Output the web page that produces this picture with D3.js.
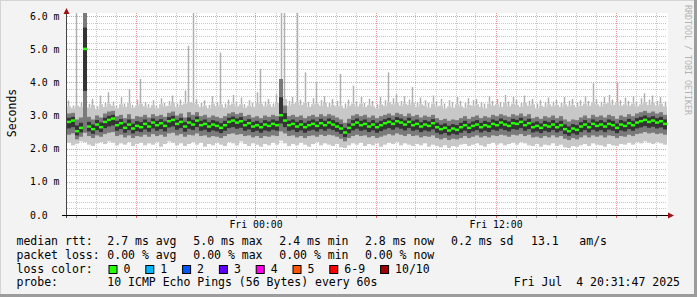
<!DOCTYPE html>
<html lang="en">
<head>
<meta charset="utf-8">
<title>SmokePing latency</title>
<script src="https://cdn.jsdelivr.net/npm/d3@7/dist/d3.min.js"></script>
<style>
  body { margin: 0; background: #f3f3f3; }
  svg text { font-family: "DejaVu Sans Mono", monospace; white-space: pre; }
</style>
</head>
<body>
<script>
// time window and column step (minutes)
var tStart = new Date(Date.UTC(2025, 6, 3, 14, 34, 30));
var tEnd = new Date(Date.UTC(2025, 6, 4, 20, 34, 30));
var stepMin = 12;

// per column values in ms: lowest ping, lower quartile, median, upper quartile, 90th pct, highest ping
var med = [
  2.80,2.84,2.52,2.62,5.00,2.66,2.58,2.72,2.64,2.80,
  2.86,2.90,2.70,2.76,2.62,2.72,2.60,2.68,2.64,2.74,
  2.66,2.78,2.70,2.76,2.68,2.82,2.86,2.74,2.80,2.66,
  2.78,2.72,2.84,2.70,2.74,2.66,2.72,2.68,2.62,2.70,
  2.80,2.84,2.78,2.82,2.70,2.76,2.66,2.70,2.64,2.72,
  2.68,2.74,2.70,3.00,2.84,2.70,2.74,2.66,2.72,2.64,
  2.70,2.74,2.68,2.76,2.70,2.78,2.72,2.66,2.60,2.48,
  2.62,2.72,2.78,2.70,2.74,2.66,2.72,2.64,2.70,2.76,
  2.80,2.74,2.82,2.78,2.72,2.80,2.70,2.74,2.66,2.72,
  2.68,2.76,2.64,2.58,2.62,2.54,2.60,2.56,2.64,2.70,
  2.62,2.68,2.72,2.64,2.70,2.66,2.74,2.70,2.78,2.72,
  2.68,2.76,2.74,2.80,2.70,2.76,2.64,2.68,2.62,2.70,
  2.66,2.72,2.64,2.70,2.58,2.52,2.60,2.56,2.66,2.72,
  2.64,2.74,2.68,2.72,2.66,2.74,2.70,2.62,2.72,2.68,
  2.76,2.70,2.78,2.82,2.86,2.80,2.84,2.78,2.82,2.74
];
var lo = [
  2.18,2.10,2.15,2.22,2.20,2.12,2.08,2.16,2.20,2.14,
  2.22,2.18,2.10,2.16,2.12,2.20,2.08,2.14,2.18,2.10,
  2.16,2.12,2.20,2.06,2.14,2.22,2.18,2.10,2.16,2.08,
  2.14,2.20,2.12,2.18,2.06,2.14,2.10,2.18,2.12,2.08,
  2.20,2.16,2.10,2.22,2.14,2.08,2.16,2.12,2.06,2.14,
  2.10,2.18,2.12,2.24,2.16,2.08,2.14,2.10,2.18,2.12,
  2.06,2.14,2.20,2.10,2.16,2.12,2.08,2.14,2.04,2.02,
  2.10,2.16,2.12,2.18,2.08,2.14,2.10,2.16,2.06,2.12,
  2.18,2.14,2.20,2.10,2.16,2.12,2.08,2.14,2.10,2.16,
  2.06,2.12,2.08,2.04,2.10,2.02,2.08,2.06,2.12,2.14,
  2.08,2.12,2.16,2.10,2.06,2.14,2.18,2.12,2.16,2.10,
  2.14,2.18,2.12,2.20,2.16,2.10,2.08,2.14,2.06,2.12,
  2.10,2.16,2.08,2.12,2.04,2.02,2.08,2.06,2.10,2.14,
  2.08,2.16,2.12,2.10,2.06,2.14,2.10,2.08,2.14,2.12,
  2.18,2.12,2.20,2.16,2.22,2.18,2.14,2.20,2.16,2.12
];
var q1 = [
  2.42,2.46,2.28,2.36,2.48,2.38,2.32,2.40,2.36,2.44,
  2.48,2.50,2.38,2.42,2.34,2.40,2.32,2.38,2.36,2.42,
  2.36,2.44,2.38,2.42,2.36,2.46,2.48,2.40,2.44,2.36,
  2.42,2.40,2.46,2.38,2.40,2.34,2.38,2.36,2.32,2.38,
  2.44,2.46,2.42,2.44,2.38,2.40,2.34,2.38,2.32,2.38,
  2.36,2.40,2.38,2.52,2.46,2.38,2.40,2.34,2.38,2.32,
  2.38,2.40,2.36,2.42,2.38,2.42,2.40,2.36,2.30,2.22,
  2.32,2.38,2.42,2.38,2.40,2.34,2.38,2.32,2.36,2.40,
  2.44,2.40,2.46,2.42,2.38,2.44,2.38,2.40,2.34,2.38,
  2.36,2.40,2.32,2.28,2.32,2.26,2.30,2.28,2.32,2.38,
  2.32,2.36,2.40,2.34,2.38,2.34,2.40,2.38,2.42,2.40,
  2.36,2.42,2.40,2.44,2.38,2.42,2.34,2.36,2.32,2.38,
  2.34,2.40,2.34,2.38,2.30,2.26,2.32,2.28,2.34,2.40,
  2.34,2.40,2.36,2.40,2.34,2.40,2.38,2.32,2.38,2.36,
  2.42,2.38,2.44,2.46,2.50,2.46,2.48,2.44,2.46,2.42
];
var q3 = [
  3.06,3.08,2.88,2.94,6.30,2.96,2.88,3.00,2.94,3.06,
  3.12,3.14,2.98,3.02,2.92,3.04,2.90,2.98,2.96,3.02,
  2.94,3.04,2.98,3.02,2.96,3.08,3.12,3.00,3.06,2.94,
  3.10,3.02,3.10,2.98,3.02,2.94,3.00,2.96,2.92,2.98,
  3.06,3.10,3.04,3.08,2.98,3.02,2.94,2.98,2.92,3.00,
  2.96,3.02,2.98,4.10,3.30,2.98,3.02,2.96,3.00,2.92,
  2.98,3.02,2.96,3.04,2.98,3.04,3.00,2.94,2.88,2.78,
  2.90,3.00,3.04,2.98,3.02,2.94,3.00,2.92,2.98,3.02,
  3.06,3.00,3.08,3.04,2.98,3.06,2.98,3.02,2.94,3.00,
  2.96,3.02,2.92,2.86,2.90,2.84,2.88,2.86,2.92,2.98,
  2.90,2.96,3.00,2.92,2.98,2.94,3.02,2.98,3.04,3.00,
  2.96,3.04,3.00,3.06,2.98,3.04,2.92,2.96,2.90,2.98,
  2.94,3.00,2.92,2.98,2.88,2.82,2.88,2.86,2.94,3.00,
  2.92,3.02,2.96,3.00,2.94,3.02,2.98,2.90,3.00,2.96,
  3.04,2.98,3.06,3.10,3.14,3.08,3.12,3.06,3.10,3.02
];
var p90 = [
  3.28,3.22,3.30,3.26,3.40,3.24,3.32,3.20,3.34,3.26,
  3.36,3.30,3.22,3.34,3.26,3.38,3.24,3.30,3.36,3.28,
  3.24,3.32,3.22,3.34,3.28,3.30,3.38,3.26,3.32,3.36,
  3.40,3.38,3.34,3.26,3.30,3.22,3.36,3.28,3.34,3.24,
  3.32,3.36,3.28,3.34,3.24,3.30,3.26,3.38,3.36,3.28,
  3.34,3.26,3.38,3.60,3.50,3.30,3.36,3.40,3.32,3.38,
  3.26,3.34,3.36,3.30,3.38,3.26,3.32,3.28,3.30,3.22,
  3.30,3.36,3.28,3.36,3.26,3.32,3.28,3.22,3.34,3.30,
  3.40,3.34,3.38,3.30,3.36,3.32,3.38,3.26,3.34,3.30,
  3.24,3.36,3.28,3.30,3.22,3.28,3.24,3.34,3.28,3.24,
  3.32,3.30,3.34,3.26,3.22,3.36,3.30,3.34,3.26,3.38,
  3.28,3.36,3.32,3.26,3.38,3.30,3.34,3.22,3.30,3.26,
  3.34,3.28,3.32,3.26,3.34,3.28,3.32,3.26,3.30,3.36,
  3.30,3.40,3.34,3.28,3.36,3.38,3.32,3.40,3.30,3.34,
  3.30,3.36,3.28,3.34,3.40,3.32,3.38,3.30,3.36,3.28
];
var hi = [
  3.45,3.30,6.30,3.40,6.30,3.35,3.50,3.28,3.60,3.38,
  3.70,3.42,3.30,3.55,3.36,3.80,3.32,3.48,4.10,3.40,
  3.34,3.46,3.30,3.52,3.38,3.44,3.60,3.36,3.48,3.75,
  5.10,6.30,3.50,3.38,3.46,3.32,3.58,3.40,4.90,3.36,
  3.48,3.62,3.40,3.54,3.34,3.46,3.38,3.70,4.40,3.42,
  3.50,3.36,3.64,6.30,6.30,3.44,3.56,6.30,3.48,4.30,
  3.40,3.52,4.00,3.46,3.58,3.38,3.50,3.44,4.25,3.36,
  3.48,3.90,3.42,3.56,3.38,3.50,3.44,3.34,3.56,3.46,
  4.30,3.52,3.64,3.44,3.58,3.48,3.86,3.40,3.54,3.46,
  3.38,3.60,3.42,3.50,3.36,3.46,3.40,3.56,3.44,3.38,
  3.52,3.46,3.50,3.40,3.36,3.58,3.44,3.50,3.40,3.62,
  3.42,3.56,3.48,3.38,3.60,3.44,3.50,3.36,3.46,3.40,
  3.54,3.42,3.48,3.38,3.56,3.44,3.50,3.40,3.46,3.58,
  3.44,3.97,3.50,3.42,3.56,3.62,3.48,4.00,3.46,3.54,
  3.44,3.58,3.40,3.52,3.67,3.48,3.60,3.44,3.56,3.42
];

var yTicks = [0, 1, 2, 3, 4, 5, 6];
var yLabels = ["0.0", "1.0 m", "2.0 m", "3.0 m", "4.0 m", "5.0 m", "6.0 m"];

var rttLabel = "median rtt:";
var rttStats = ["2.7 ms avg", "5.0 ms max", "2.4 ms min", "2.8 ms now", "0.2 ms sd", "13.1", "am/s"];
var lossLabel = "packet loss:";
var lossStats = ["0.00 % avg", "0.00 % max", "0.00 % min", "0.00 % now"];
var colorLabel = "loss color:";
var lossNames = ["0", "1", "2", "3", "4", "5", "6-9", "10/10"];
var lossColors = ["#26ff00", "#00b8ff", "#0059ff", "#5e00ff", "#ff00ea", "#ff5500", "#ff0000", "#a10000"];
var probeLabel = "probe:";
var probeText = "10 ICMP Echo Pings (56 Bytes) every 60s";
var stampText = "Fri Jul  4 20:31:47 2025";

var W = 697, H = 297;
var pLeft = 67, pRight = 667, pTop = 13, pBottom = 215;

var svg = d3.select("body").append("svg")
  .attr("width", W).attr("height", H);

// background and 3d frame
svg.append("rect").attr("width", W).attr("height", H).attr("fill", "#f3f3f3");
svg.append("rect").attr("x", W - 3).attr("y", 0).attr("width", 3).attr("height", H).attr("fill", "#9c9c9c");
svg.append("rect").attr("x", 0).attr("y", H - 3).attr("width", W).attr("height", 3).attr("fill", "#9c9c9c");
svg.append("rect").attr("x", 0).attr("y", 0).attr("width", W - 3).attr("height", 1).attr("fill", "#d4d4d4");
svg.append("rect").attr("x", 0).attr("y", 0).attr("width", 1).attr("height", H - 3).attr("fill", "#d4d4d4");

svg.append("rect")
  .attr("x", pLeft).attr("y", pTop)
  .attr("width", pRight - pLeft + 1).attr("height", pBottom - pTop)
  .attr("fill", "#ffffff");

var x = d3.scaleUtc().domain([tStart, tEnd]).range([pLeft, pRight]);
var y = d3.scaleLinear().domain([0, 6]).range([pBottom, 16]);

// grid
var grid = svg.append("g");
var minorY = d3.range(1, 30).filter(function(d) { return d % 5 !== 0; }).map(function(d) { return d / 5; });
grid.selectAll(".hmin").data(minorY).enter().append("line")
  .attr("x1", pLeft).attr("x2", pRight)
  .attr("y1", function(d) { return Math.round(y(d)) + 0.5; })
  .attr("y2", function(d) { return Math.round(y(d)) + 0.5; })
  .attr("stroke", "#c8c8c8").attr("stroke-dasharray", "1,1");
var hours = d3.utcHour.range(tStart, tEnd);
grid.selectAll(".vmin").data(hours.filter(function(d) { return d.getUTCHours() % 6 !== 0; })).enter().append("line")
  .attr("x1", function(d) { return Math.round(x(d)) + 0.5; })
  .attr("x2", function(d) { return Math.round(x(d)) + 0.5; })
  .attr("y1", pTop).attr("y2", pBottom)
  .attr("stroke", "#c8c8c8").attr("stroke-dasharray", "1,1");
grid.selectAll(".hmaj").data(yTicks.slice(1)).enter().append("line")
  .attr("x1", pLeft).attr("x2", pRight)
  .attr("y1", function(d) { return Math.round(y(d)) + 0.5; })
  .attr("y2", function(d) { return Math.round(y(d)) + 0.5; })
  .attr("stroke", "#e89a9a").attr("stroke-dasharray", "1,1");
var sixHours = hours.filter(function(d) { return d.getUTCHours() % 6 === 0; });
grid.selectAll(".vmaj").data(sixHours).enter().append("line")
  .attr("x1", function(d) { return Math.round(x(d)) + 0.5; })
  .attr("x2", function(d) { return Math.round(x(d)) + 0.5; })
  .attr("y1", pTop).attr("y2", pBottom)
  .attr("stroke", "#e89a9a").attr("stroke-dasharray", "1,1");

// smoke
svg.append("clipPath").attr("id", "plotclip").append("rect")
  .attr("x", pLeft).attr("y", pTop).attr("width", pRight - pLeft).attr("height", pBottom - pTop);
var plot = svg.append("g").attr("clip-path", "url(#plotclip)");

var cols = med.map(function(m, i) {
  var t = d3.utcMinute.offset(tStart, i * stepMin);
  return { i: i, t: t, t2: d3.utcMinute.offset(t, stepMin), lo: lo[i], q1: q1[i], med: m, q3: q3[i], p90: p90[i], hi: hi[i] };
});

// thin whiskers up to the slowest ping
plot.selectAll(".wh").data(cols).enter().append("line")
  .attr("class", "wh")
  .attr("x1", function(d) { return x(d.t) + (d.i % 2 ? 2.5 : 1.5); })
  .attr("x2", function(d) { return x(d.t) + (d.i % 2 ? 2.5 : 1.5); })
  .attr("y1", function(d) { return y(d.p90); })
  .attr("y2", function(d) { return y(d.hi); })
  .attr("stroke", "#b0b0b0").attr("stroke-width", 1.5);

function band(cls, color, a, b) {
  plot.selectAll("." + cls).data(cols).enter().append("rect")
    .attr("class", cls)
    .attr("x", function(d) { return x(d.t); })
    .attr("width", function(d) { return x(d.t2) - x(d.t); })
    .attr("y", function(d) { return y(b(d)); })
    .attr("height", function(d) { return y(a(d)) - y(b(d)); })
    .attr("fill", color);
}
band("s1", "#c8c8c8", function(d) { return d.lo; }, function(d) { return d.p90; });
band("s2", "#7a7a7a", function(d) { return d.q1; }, function(d) { return d.q3; });
band("s3", "#343434", function(d) { return (d.q1 + d.med) / 2; }, function(d) { return (d.med + d.q3) / 2; });

plot.selectAll(".med").data(cols).enter().append("rect")
  .attr("class", "med")
  .attr("x", function(d) { return x(d.t); })
  .attr("width", function(d) { return x(d.t2) - x(d.t); })
  .attr("y", function(d) { return y(d.med) - 1.5; })
  .attr("height", 2.5)
  .attr("fill", lossColors[0]);

// axes
svg.append("line").attr("x1", 66.5).attr("x2", 66.5).attr("y1", 218).attr("y2", 12)
  .attr("stroke", "#444");
svg.append("path").attr("d", "M66.5,8 L63.5,14 L69.5,14 Z").attr("fill", "#a01010");
svg.append("line").attr("x1", 62).attr("x2", 668).attr("y1", 215.5).attr("y2", 215.5)
  .attr("stroke", "#000");
svg.append("path").attr("d", "M674,215.5 L668,212.5 L668,218.5 Z").attr("fill", "#a01010");

svg.selectAll(".xtmin").data(hours).enter().append("line")
  .attr("x1", function(d) { return Math.round(x(d)) + 0.5; })
  .attr("x2", function(d) { return Math.round(x(d)) + 0.5; })
  .attr("y1", 216).attr("y2", 218)
  .attr("stroke", function(d) { return d.getUTCHours() % 6 === 0 ? "#e07070" : "#999"; });

svg.selectAll(".ylab").data(yTicks).enter().append("text")
  .attr("x", 30)
  .attr("y", function(d) { return y(d) + 3.5; })
  .attr("font-size", "9.8px")
  .text(function(d, i) { return yLabels[i]; });

var fmt = d3.utcFormat("%a %H:%M");
svg.selectAll(".xlab").data(hours.filter(function(d) { return d.getUTCHours() % 12 === 0; })).enter().append("text")
  .attr("x", function(d) { return x(d) + 0.5; })
  .attr("y", 228)
  .attr("text-anchor", "middle")
  .attr("font-size", "9.8px")
  .text(function(d) { return fmt(d); });

svg.append("text")
  .attr("transform", "translate(15.5,113) rotate(-90)")
  .attr("text-anchor", "middle")
  .attr("font-size", "11.5px")
  .text("Seconds");

svg.append("text")
  .attr("transform", "translate(685,5) rotate(90)")
  .attr("font-size", "8.3px")
  .attr("fill", "#b4b4b4")
  .text("RRDTOOL / TOBI OETIKER");

// legend
var lg = svg.append("g").attr("font-size", "11.5px");
var rttX = [107.3, 193.3, 279.3, 365, 451, 531, 579.3];
lg.append("text").attr("x", 16.5).attr("y", 245).text(rttLabel);
lg.selectAll(".rtt").data(rttStats).enter().append("text")
  .attr("x", function(d, i) { return rttX[i]; }).attr("y", 245).text(function(d) { return d; });
lg.append("text").attr("x", 16.5).attr("y", 258.8).text(lossLabel);
lg.selectAll(".loss").data(lossStats).enter().append("text")
  .attr("x", function(d, i) { return rttX[i]; }).attr("y", 258.8).text(function(d) { return d; });
lg.append("text").attr("x", 16.5).attr("y", 272.6).text(colorLabel);
var swX = [];
lossNames.reduce(function(acc, name) { swX.push(acc); return acc + 29.8 + name.length * 7; }, 108.5);
var sw = lg.selectAll(".sw").data(lossNames).enter().append("g")
  .attr("transform", function(d, i) { return "translate(" + swX[i] + ",0)"; });
sw.append("rect").attr("x", 0.5).attr("y", 265.5).attr("width", 8).attr("height", 8)
  .attr("fill", function(d, i) { return lossColors[i]; })
  .attr("stroke", "#000").attr("stroke-width", 1);
sw.append("text").attr("x", 15).attr("y", 272.6).text(function(d) { return d; });
lg.append("text").attr("x", 16.5).attr("y", 286.4).text(probeLabel);
lg.append("text").attr("x", 107.3).attr("y", 286.4).text(probeText);
lg.append("text").attr("x", 680).attr("y", 286.4).attr("text-anchor", "end").text(stampText);
</script>
</body>
</html>
